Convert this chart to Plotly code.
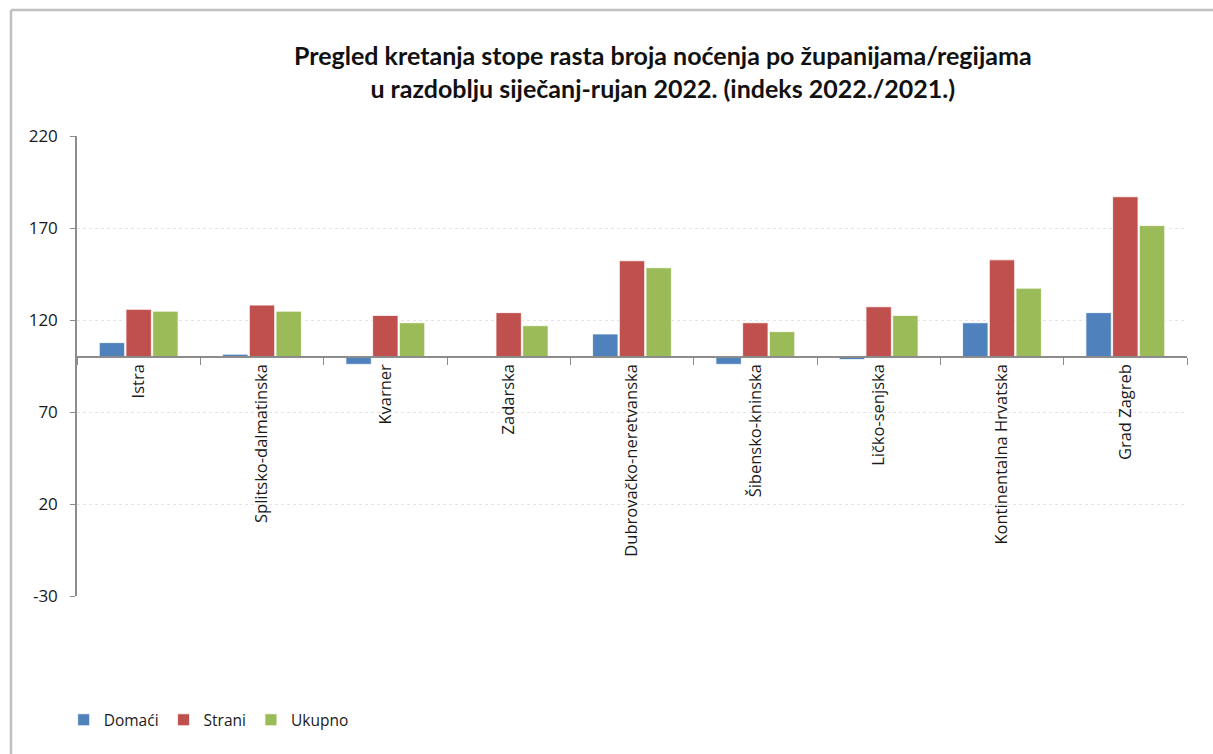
import plotly.graph_objects as go

# Regions (counties / regions)
regions = [
    "Istra",
    "Splitsko-dalmatinska",
    "Kvarner",
    "Zadarska",
    "Dubrovačko-neretvanska",
    "Šibensko-kninska",
    "Ličko-senjska",
    "Kontinentalna Hrvatska",
    "Grad Zagreb",
]

# Index 2022/2021 of overnight stays
domaci = [107.7, 101.4, 95.9, 99.5, 112.4, 95.9, 98.5, 118.5, 124.0]
strani = [125.8, 128.1, 122.5, 124.0, 152.2, 118.5, 127.2, 152.7, 187.0]
ukupno = [124.8, 124.8, 118.5, 116.9, 148.4, 113.7, 122.5, 137.3, 171.3]

y_ticks = [-30, 20, 70, 120, 170, 220]
y_tick_labels = ["-30", "20", "70", "120", "170", "220"]
BASE = 100
Y_MIN, Y_MAX = -30, 220

series = [
    ("Domaći", domaci, "#4F81BD"),
    ("Strani", strani, "#C0504D"),
    ("Ukupno", ukupno, "#9BBB59"),
]

fig = go.Figure()
for name, vals, color in series:
    fig.add_trace(go.Bar(
        name=name,
        x=regions,
        y=[v - BASE for v in vals],
        base=BASE,
        marker=dict(color=color, line=dict(color="white", width=0.8)),
        customdata=vals,
        hovertemplate="%{x}<br>" + name + ": %{customdata}<extra></extra>",
    ))

FONT = "'Open Sans', Lato, sans-serif"
TITLE_FONT = "Lato, 'Open Sans', sans-serif"
TEXT = "#1a1a1a"

# category axis crosses the value axis at the index base (100)
x_pos = (BASE - Y_MIN) / (Y_MAX - Y_MIN)

fig.update_layout(
    width=1213,
    height=754,
    margin=dict(l=77, r=26, t=136, b=158),
    paper_bgcolor="white",
    plot_bgcolor="white",
    barmode="group",
    bargap=0.35,
    bargroupgap=0.05,
    font=dict(family=FONT, color=TEXT),
    showlegend=True,
    legend=dict(
        orientation="h",
        x=-0.012, y=-0.27,
        xanchor="left", yanchor="middle",
        font=dict(size=15.5, color=TEXT),
        itemwidth=30,
        tracegroupgap=0,
    ),
    xaxis=dict(
        anchor="free",
        position=x_pos,
        showline=True,
        linecolor="#8c8c8c",
        linewidth=1.5,
        ticks="outside",
        tickson="boundaries",
        ticklen=7,
        tickcolor="#8c8c8c",
        tickangle=-90,
        tickfont=dict(size=16.5, color=TEXT),
        showgrid=False,
        zeroline=False,
        range=[-0.5, len(regions) - 0.5],
    ),
    yaxis=dict(
        range=[Y_MIN, Y_MAX],
        tickvals=y_ticks,
        ticktext=y_tick_labels,
        showline=True,
        linecolor="#8c8c8c",
        linewidth=1.5,
        ticks="outside",
        ticklen=5,
        tickcolor="#8c8c8c",
        tickfont=dict(size=17, color=TEXT),
        ticklabelstandoff=9,
        showgrid=True,
        gridcolor="#e4e4e4",
        griddash="dot",
        gridwidth=1,
        zeroline=False,
    ),
)

# title
fig.add_annotation(
    xref="paper", yref="paper",
    x=0.528, y=1.141,
    xanchor="center", yanchor="middle",
    text="<b>Pregled kretanja stope rasta broja noćenja po županijama/regijama<br>"
         "u razdoblju siječanj-rujan 2022. (indeks 2022./2021.)</b>",
    showarrow=False,
    align="center",
    font=dict(family=TITLE_FONT, size=25, color="#111111"),
)

# chart frame (top and left edges)
fig.add_shape(type="line", xref="paper", yref="paper",
              x0=-0.0595, x1=1.05, y0=1.2739, y1=1.2739,
              line=dict(color="#c0c0c0", width=2.5))
fig.add_shape(type="line", xref="paper", yref="paper",
              x0=-0.0595, x1=-0.0595, y0=-0.4, y1=1.2739,
              line=dict(color="#c0c0c0", width=2.5))

fig.write_html("out.html")
